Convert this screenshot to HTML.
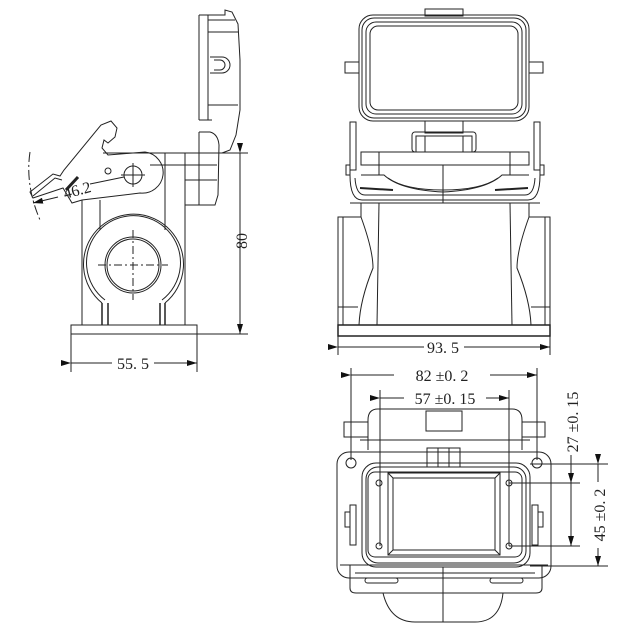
<!DOCTYPE html>
<html><head><meta charset="utf-8"><style>
html,body{margin:0;padding:0;background:#fff;}
svg{display:block;}
text{font-family:"Liberation Serif","Noto Serif CJK SC",serif;fill:#222;font-size:16px;}
</style></head><body>
<svg width="625" height="628" viewBox="0 0 625 628" xmlns="http://www.w3.org/2000/svg">
<defs>
<marker id="ar" markerWidth="10" markerHeight="6" refX="10" refY="3" orient="auto" markerUnits="userSpaceOnUse"><path d="M0,0 L10,3 L0,6 Z" fill="#111"/></marker>
</defs>
<g fill="none" stroke="#222" stroke-width="1">
<!-- ========== SIDE VIEW ========== -->
<path d="M199,15 L225,15 L225,10 L232,12 L238,24 L240,60 L240,110 L236,135 L230,150 L222,153"/>
<line x1="199" y1="15" x2="199" y2="120"/>
<line x1="208" y1="15" x2="208" y2="120"/>
<line x1="199" y1="120" x2="212" y2="120"/>
<path d="M208,20 L235,20 M208,32 L238,32 M208,105 L238,105"/>
<path d="M210,57 L222,57 A8,8 0 0 1 222,73 L210,73 M214,60 L220,60 A5,5 0 0 1 220,70 L214,70"/>
<path d="M199,132 L210,132 Q218,134 219,145 L218,195 L215,205 L185,205"/>
<line x1="199" y1="132" x2="199" y2="205"/>
<line x1="185" y1="165" x2="217" y2="165"/>
<line x1="185" y1="180" x2="217" y2="180"/>
<line x1="103" y1="153" x2="248" y2="153"/>
<line x1="82" y1="200" x2="82" y2="325"/>
<line x1="185" y1="153" x2="185" y2="325"/>
<line x1="165" y1="153" x2="165" y2="230"/>
<line x1="100" y1="200" x2="100" y2="230"/>
<line x1="150" y1="165" x2="199" y2="165"/>
<path d="M102,303 A50,50 0 1 1 165,303"/>
<path d="M105,300 A47,47 0 1 1 162,300"/>
<circle cx="133" cy="265" r="28"/>
<circle cx="133" cy="265" r="26"/>
<path d="M102,303 L102,325 M108,303 L108,325 M165,303 L165,325 M160,303 L160,325" stroke-width="1.5"/>
<line x1="133" y1="230" x2="133" y2="300" stroke-dasharray="8,3,2,3"/>
<line x1="98" y1="265" x2="168" y2="265" stroke-dasharray="8,3,2,3"/>
<rect x="71" y="325" width="126" height="9"/>
<path d="M30,192 L53,174 L60,176 L64,170 L101,125 L111,121 L117,128 L115,137 L108,143 L104,140 L102,148 L108,155 L145,152 A15,15 0 0 1 140,193 L82,200 L72,203 L63,188 L33,198 Z"/>
<path d="M33,196 L55,178 L62,180"/>
<circle cx="133" cy="175" r="9"/>
<line x1="121" y1="175" x2="145" y2="175"/>
<line x1="133" y1="163" x2="133" y2="187"/>
<circle cx="108" cy="171" r="3"/>
<line x1="90" y1="184" x2="124" y2="177"/>
<line x1="66" y1="190" x2="78" y2="177" stroke-width="3"/>
<path d="M30,152 Q25,185 40,220" stroke-dasharray="10,3,2,3"/>
<line x1="58" y1="197" x2="33" y2="203" marker-end="url(#ar)"/>
<line x1="240" y1="153" x2="240" y2="334" marker-start="url(#ar)" marker-end="url(#ar)"/>
<line x1="197" y1="334" x2="248" y2="334"/>
<line x1="71" y1="334" x2="71" y2="372"/>
<line x1="197" y1="334" x2="197" y2="372"/>
<line x1="71" y1="363" x2="197" y2="363" marker-start="url(#ar)" marker-end="url(#ar)"/>

<!-- ========== FRONT VIEW ========== -->
<rect x="425" y="9" width="38" height="7"/>
<rect x="359" y="15" width="170" height="106" rx="14"/>
<rect x="362" y="18" width="164" height="100" rx="12"/>
<rect x="366" y="22" width="156" height="92" rx="10"/>
<rect x="370" y="26" width="148" height="84" rx="8"/>
<rect x="345" y="62" width="14" height="11"/>
<rect x="529" y="62" width="14" height="11"/>
<rect x="425" y="121" width="38" height="12"/>
<rect x="412" y="132" width="64" height="20" rx="3"/>
<rect x="416" y="136" width="56" height="16"/>
<line x1="425" y1="136" x2="425" y2="152"/><line x1="463" y1="136" x2="463" y2="152"/>
<rect x="361" y="152" width="168" height="13"/>
<line x1="379" y1="152" x2="379" y2="175"/><line x1="510" y1="152" x2="510" y2="175"/>
<path d="M350,175 Q350,200 362,200 L528,200 Q540,200 540,175"/>
<path d="M355,178 Q356,195 365,195 L525,195 Q534,195 535,178"/>
<path d="M361,175 L384,175 Q400,190 443,192 Q486,190 502,175 L529,175"/>
<path d="M388,178 Q405,190 443,190 Q481,190 498,178"/>
<line x1="360" y1="188" x2="393" y2="190" stroke-width="2"/>
<line x1="495" y1="190" x2="528" y2="188" stroke-width="2"/>
<line x1="443" y1="165" x2="443" y2="203"/>
<rect x="350" y="122" width="6" height="48"/><rect x="534" y="122" width="6" height="48"/>
<rect x="346" y="165" width="4" height="10"/><rect x="540" y="165" width="4" height="10"/>
<line x1="350" y1="203" x2="540" y2="203"/>
<path d="M361,203 L361,217 Q373,250 373,268 Q360,300 359,325"/>
<path d="M529,203 L529,217 Q517,250 517,268 Q530,300 531,325"/>
<line x1="379" y1="203" x2="377" y2="325"/><line x1="510" y1="203" x2="512" y2="325"/>
<path d="M361,217 L338,217 L338,325 M529,217 L550,217 L550,325"/>
<line x1="343" y1="217" x2="343" y2="325"/><line x1="545" y1="217" x2="545" y2="325"/>
<line x1="338" y1="307" x2="358" y2="307"/><line x1="531" y1="307" x2="550" y2="307"/>
<rect x="338" y="325" width="212" height="11" stroke-width="1.5"/>
<line x1="338" y1="336" x2="338" y2="355"/><line x1="550" y1="336" x2="550" y2="355"/>
<line x1="338" y1="347" x2="550" y2="347" marker-start="url(#ar)" marker-end="url(#ar)"/>

<!-- ========== BOTTOM VIEW ========== -->
<line x1="351" y1="368" x2="351" y2="460"/><line x1="537" y1="368" x2="537" y2="460"/>
<line x1="351" y1="375" x2="537" y2="375" marker-start="url(#ar)" marker-end="url(#ar)"/>
<line x1="380" y1="390" x2="380" y2="546"/><line x1="509" y1="390" x2="509" y2="546"/>
<line x1="380" y1="398" x2="509" y2="398" marker-start="url(#ar)" marker-end="url(#ar)"/>
<path d="M368,450 L368,420 Q368,409 378,409 L512,409 Q522,409 522,420 L522,450"/>
<line x1="360" y1="440" x2="530" y2="440"/>
<rect x="344" y="422" width="24" height="15"/><rect x="522" y="422" width="23" height="15"/>
<rect x="426" y="411" width="36" height="20"/>
<rect x="427" y="448" width="33" height="19"/>
<line x1="438" y1="448" x2="438" y2="467"/><line x1="449" y1="448" x2="449" y2="467"/>
<rect x="337" y="452" width="214" height="126" rx="12"/>
<rect x="362" y="463" width="168" height="104" rx="14"/>
<rect x="366" y="467" width="160" height="96" rx="12"/>
<rect x="368" y="472" width="154" height="85" rx="7"/>
<rect x="388" y="473" width="112" height="82"/>
<rect x="393" y="478" width="102" height="72"/>
<line x1="388" y1="473" x2="393" y2="478"/><line x1="500" y1="473" x2="495" y2="478"/>
<line x1="388" y1="555" x2="393" y2="550"/><line x1="500" y1="555" x2="495" y2="550"/>
<circle cx="379" cy="483" r="3"/><circle cx="509" cy="483" r="3"/>
<circle cx="379" cy="546" r="3"/><circle cx="509" cy="546" r="3"/>
<circle cx="351" cy="463" r="5"/><circle cx="537" cy="463" r="5"/>
<rect x="350" y="505" width="6" height="40"/><rect x="532" y="505" width="6" height="40"/>
<rect x="345" y="512" width="5" height="15"/><rect x="538" y="512" width="5" height="15"/>
<path d="M350,565 L350,588 Q350,593 356,593 L536,593 Q542,593 542,588 L542,565"/>
<line x1="340" y1="565" x2="548" y2="565"/>
<line x1="355" y1="573" x2="535" y2="573"/>
<rect x="365" y="578" width="33" height="5" rx="2.5"/><rect x="490" y="578" width="33" height="5" rx="2.5"/>
<path d="M383,593 Q390,622 415,622 L475,622 Q500,622 503,593"/>
<line x1="443" y1="567" x2="443" y2="622"/>
<line x1="509" y1="483" x2="580" y2="483"/><line x1="509" y1="546" x2="580" y2="546"/>
<line x1="571" y1="455" x2="571" y2="483"/>
<line x1="571" y1="483" x2="571" y2="546" marker-start="url(#ar)" marker-end="url(#ar)"/>
<line x1="530" y1="464" x2="608" y2="464"/><line x1="530" y1="566" x2="608" y2="566"/>
<line x1="598" y1="464" x2="598" y2="566" marker-start="url(#ar)" marker-end="url(#ar)"/>
</g>
<!-- label backgrounds -->
<g fill="#fff">
<rect x="112" y="354" width="42" height="18"/>
<rect x="424" y="338" width="40" height="18"/>
<rect x="394" y="366" width="96" height="18"/>
<rect x="404" y="389" width="82" height="18"/>
<rect x="589" y="482" width="20" height="66"/>
</g>
<text x="63" y="196" transform="rotate(-15 75 190)">46.2</text>
<text x="0" y="0" transform="translate(247,241) rotate(-90)" text-anchor="middle">80</text>
<text x="133" y="369" text-anchor="middle">55. 5</text>
<text x="443" y="353" text-anchor="middle">93. 5</text>
<text x="442" y="381" text-anchor="middle">82 ±0. 2</text>
<text x="445" y="404" text-anchor="middle">57 ±0. 15</text>
<text x="0" y="0" transform="translate(578,422) rotate(-90)" text-anchor="middle">27 ±0. 15</text>
<text x="0" y="0" transform="translate(605,515) rotate(-90)" text-anchor="middle">45 ±0. 2</text>
</svg>
</body></html>
